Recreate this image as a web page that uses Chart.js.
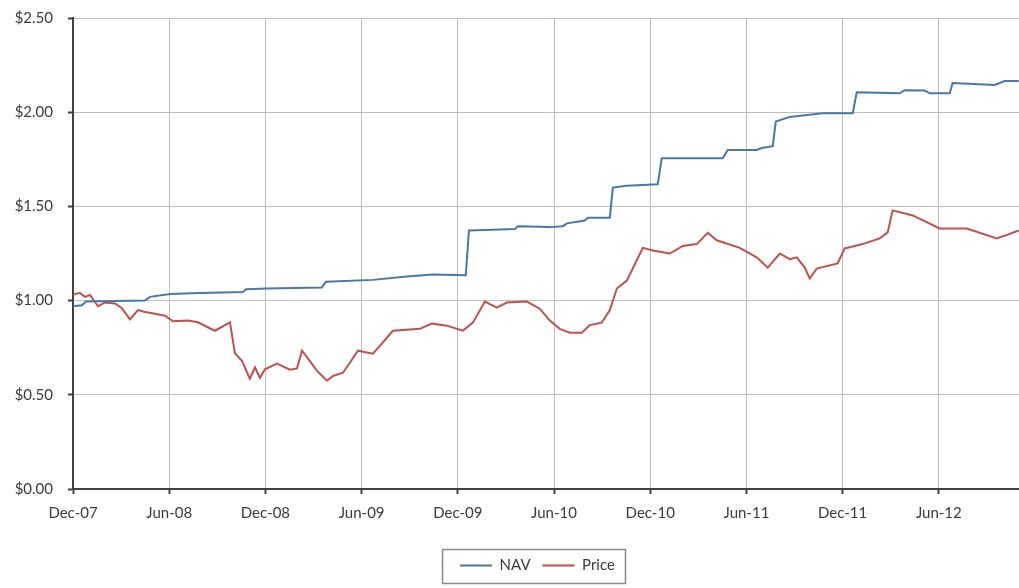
<!DOCTYPE html>
<html>
<head>
<meta charset="utf-8">
<script src="https://cdn.jsdelivr.net/npm/chart.js@4.4.1/dist/chart.umd.min.js"></script>
<style>
  html, body { margin: 0; padding: 0; background: #ffffff; }
  #wrap { width: 1019px; height: 588px; }
</style>
</head>
<body>
<div id="wrap"><canvas id="c" width="1019" height="588"></canvas></div>
<script>
// Months since Dec-07 (0 = Dec-07, 6 = Jun-08, ...)
const xTickLabels = ['Dec-07','Jun-08','Dec-08','Jun-09','Dec-09','Jun-10','Dec-10','Jun-11','Dec-11','Jun-12'];
const yTickValues = [0, 0.5, 1.0, 1.5, 2.0, 2.5];

const navMonths = [0,0.56,0.81,4.49,4.80,6.05,7.92,10.60,10.79,12.09,15.52,15.77,18.70,20.82,22.44,24.50,24.69,26.62,27.56,27.74,29.74,30.55,30.80,31.92,32.11,33.48,33.67,34.54,36.47,36.72,40.52,40.84,42.64,42.96,43.64,43.83,44.70,46.76,48.63,48.88,51.56,51.87,53.12,53.43,54.68,54.86,57.48,58.10,58.98];
const navValues = [0.97,0.975,0.995,1.00,1.02,1.035,1.04,1.045,1.06,1.064,1.07,1.10,1.11,1.128,1.138,1.135,1.372,1.378,1.38,1.394,1.39,1.395,1.41,1.425,1.44,1.44,1.60,1.61,1.617,1.755,1.755,1.80,1.80,1.81,1.82,1.95,1.975,1.995,1.995,2.106,2.10,2.117,2.115,2.10,2.10,2.155,2.145,2.165,2.165];

const priceMonths = [0,0.19,0.44,0.75,1.06,1.56,2.00,2.62,3.05,3.55,4.05,4.49,5.11,5.74,6.23,7.17,7.79,8.85,9.79,10.10,10.54,11.03,11.35,11.66,11.97,12.72,13.53,13.97,14.28,14.59,15.21,15.84,16.21,16.83,17.27,17.77,18.70,19.14,19.95,21.63,22.38,23.32,24.31,24.94,25.69,26.43,27.06,28.30,29.11,29.74,30.36,30.99,31.73,32.23,32.98,33.48,33.92,34.54,35.54,36.16,37.22,38.03,38.90,39.59,40.15,41.58,42.64,43.33,44.08,44.70,45.14,45.64,45.95,46.38,47.69,48.13,49.25,50.31,50.81,51.12,52.37,54.05,55.74,57.61,58.29,58.98];
const priceValues = [1.03,1.037,1.04,1.02,1.03,0.97,0.99,0.985,0.96,0.90,0.95,0.94,0.93,0.92,0.89,0.894,0.885,0.84,0.885,0.72,0.68,0.585,0.645,0.59,0.635,0.665,0.633,0.64,0.734,0.70,0.628,0.575,0.60,0.617,0.67,0.734,0.718,0.76,0.84,0.85,0.878,0.867,0.84,0.883,0.995,0.963,0.99,0.995,0.957,0.894,0.85,0.83,0.83,0.87,0.883,0.95,1.064,1.106,1.28,1.266,1.25,1.29,1.30,1.36,1.32,1.28,1.23,1.175,1.25,1.22,1.23,1.175,1.117,1.17,1.197,1.277,1.30,1.33,1.362,1.479,1.452,1.383,1.383,1.33,1.35,1.372];

const FONT = { family: 'Lato, "Open Sans", sans-serif', size: 15 };
const TEXT = '#3a3a3a';

const legendBox = {
  id: 'legendBox',
  afterLayout(chart) {
    // shift the legend's centring span so it sits where the reference has it
    if (chart.legend) chart.legend.left = 56;
  },
  afterDraw(chart) {
    const lg = chart.legend;
    if (!lg || !lg.legendHitBoxes || !lg.legendHitBoxes.length) return;
    const hb = lg.legendHitBoxes;
    let l = Infinity, r = -Infinity, t = Infinity, b = -Infinity;
    hb.forEach(h => { l = Math.min(l, h.left); r = Math.max(r, h.left + h.width); t = Math.min(t, h.top); b = Math.max(b, h.top + h.height); });
    const cy = (t + b) / 2;
    const ctx = chart.ctx;
    ctx.save();
    ctx.strokeStyle = '#8a8a8a';
    ctx.lineWidth = 1.5;
    ctx.strokeRect(Math.round(l - 18) + 0.5, Math.round(cy - 17) + 0.5, Math.round(r - l + 28), 34);
    ctx.restore();
  }
};

new Chart(document.getElementById('c'), {
  type: 'line',
  data: {
    datasets: [
      {
        label: 'NAV',
        data: navMonths.map((m, i) => ({ x: m, y: navValues[i] })),
        borderColor: '#4a77a8',
        backgroundColor: '#4a77a8',
        borderWidth: 2,
        pointRadius: 0,
        tension: 0,
        fill: false
      },
      {
        label: 'Price',
        data: priceMonths.map((m, i) => ({ x: m, y: priceValues[i] })),
        borderColor: '#c0504d',
        backgroundColor: '#c0504d',
        borderWidth: 2,
        pointRadius: 0,
        tension: 0,
        fill: false
      }
    ]
  },
  options: {
    responsive: false,
    animation: false,
    events: [],
    layout: { padding: { left: 0, right: 0, top: 18, bottom: 5 } },
    plugins: {
      tooltip: { enabled: false },
      title: { display: false },
      legend: {
        display: true,
        position: 'bottom',
        align: 'center',
        labels: {
          usePointStyle: true,
          pointStyle: 'line',
          pointStyleWidth: 32,
          padding: 12,
          color: TEXT,
          font: FONT
        }
      }
    },
    scales: {
      x: {
        type: 'linear',
        min: 0,
        max: 59,
        afterFit(scale) { scale.height = 57; },
        afterBuildTicks(scale) {
          scale.ticks = xTickLabels.map((_, i) => ({ value: i * 6 }));
        },
        ticks: {
          color: TEXT,
          font: FONT,
          padding: 10,
          maxRotation: 0,
          autoSkip: false,
          callback: (v) => xTickLabels[Math.round(v / 6)] || ''
        },
        grid: {
          color: '#bdbdbd',
          lineWidth: 1,
          drawTicks: true,
          tickLength: 5,
          tickColor: '#404040',
          tickWidth: 2
        },
        border: { display: true, color: '#404040', width: 2 }
      },
      y: {
        min: 0,
        max: 2.5,
        afterFit(scale) { scale.width = 73; scale.paddingTop = 10; scale.paddingBottom = 10; },
        afterBuildTicks(scale) {
          scale.ticks = yTickValues.map(v => ({ value: v }));
        },
        ticks: {
          color: TEXT,
          font: FONT,
          padding: 15,
          callback: (v) => '$' + Number(v).toFixed(2)
        },
        grid: {
          color: '#bdbdbd',
          lineWidth: 1,
          drawTicks: true,
          tickLength: 5,
          tickColor: '#404040',
          tickWidth: 2
        },
        border: { display: true, color: '#404040', width: 2 }
      }
    }
  },
  plugins: [legendBox]
});
</script>
</body>
</html>
